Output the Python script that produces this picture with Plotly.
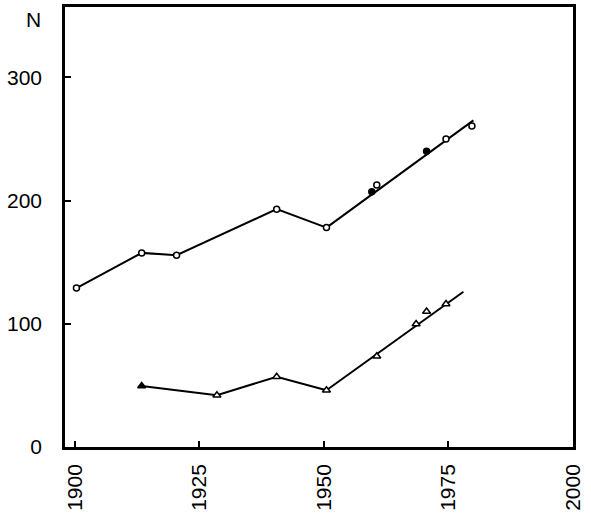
import plotly.graph_objects as go

# upper series (circles)
circ_years = [1900.3, 1913.4, 1920.4, 1940.5, 1950.5, 1959.6, 1960.6, 1970.6, 1974.5, 1979.7]
circ_vals = [129, 157.5, 155.6, 193, 178, 207, 212.6, 240, 250, 260.5]
circ_fill = ['white', 'white', 'white', 'white', 'white', 'black', 'white', 'black', 'white', 'white']
circ_path_years = [1900.3, 1913.4, 1920.4, 1940.5, 1950.5]
circ_path_vals = [129, 157.5, 155.6, 193, 178]
circ_fit_years = [1950.5, 1980]
circ_fit_vals = [178, 265]

# lower series (triangles)
tri_years = [1913.4, 1928.5, 1940.5, 1950.5, 1960.6, 1968.5, 1970.6, 1974.5]
tri_vals = [49.5, 42, 57, 46, 73.6, 99.8, 110, 116]
tri_fill = ['black', 'white', 'white', 'white', 'white', 'white', 'white', 'white']
tri_path_years = [1913.4, 1928.5, 1940.5, 1950.5]
tri_path_vals = [49.5, 42, 57, 46]
tri_fit_years = [1950.5, 1978]
tri_fit_vals = [46, 126]

x_ticks = [1900, 1925, 1950, 1975, 2000]
y_ticks = [0, 100, 200, 300]

line = dict(color='black', width=2)

fig = go.Figure()
for xs, ys in [(circ_path_years, circ_path_vals), (circ_fit_years, circ_fit_vals),
               (tri_path_years, tri_path_vals), (tri_fit_years, tri_fit_vals)]:
    fig.add_trace(go.Scatter(x=xs, y=ys, mode='lines', line=line, showlegend=False))

fig.add_trace(go.Scatter(x=circ_years, y=circ_vals, mode='markers', showlegend=False,
                         marker=dict(symbol='circle', size=6, color=circ_fill,
                                     line=dict(color='black', width=1.5))))
fig.add_trace(go.Scatter(x=tri_years, y=tri_vals, mode='markers', showlegend=False,
                         marker=dict(symbol='triangle-up', size=7, color=tri_fill,
                                     line=dict(color='black', width=1.5))))

axis_font = dict(family='Liberation Sans, Arial, sans-serif', size=21, color='black')

fig.update_xaxes(range=[1898, 2000], tickvals=x_ticks, ticks='inside', ticklen=6, tickwidth=2,
                 tickcolor='black', tickangle=-90, tickfont=axis_font, showline=True, linewidth=2.5,
                 linecolor='black', mirror=True, showgrid=False, zeroline=False,
                 ticklabelstandoff=6)
fig.update_yaxes(range=[0, 357], tickvals=y_ticks, ticks='inside', ticklen=6, tickwidth=2,
                 tickcolor='black', tickfont=axis_font, showline=True, linewidth=2.5,
                 linecolor='black', mirror=True, showgrid=False, zeroline=False,
                 ticklabelstandoff=16)

fig.add_annotation(text='N', xref='paper', yref='y', x=0, y=347, xanchor='right', xshift=-22,
                   showarrow=False, font=axis_font)

fig.update_layout(width=591, height=517, margin=dict(l=65, r=18, t=4, b=70),
                  plot_bgcolor='white', paper_bgcolor='white')

# drop the default page margin so the figure sits at the window corner
fig.write_html("out.html", config={'displayModeBar': False},
               post_script="document.body.style.margin='0';")
